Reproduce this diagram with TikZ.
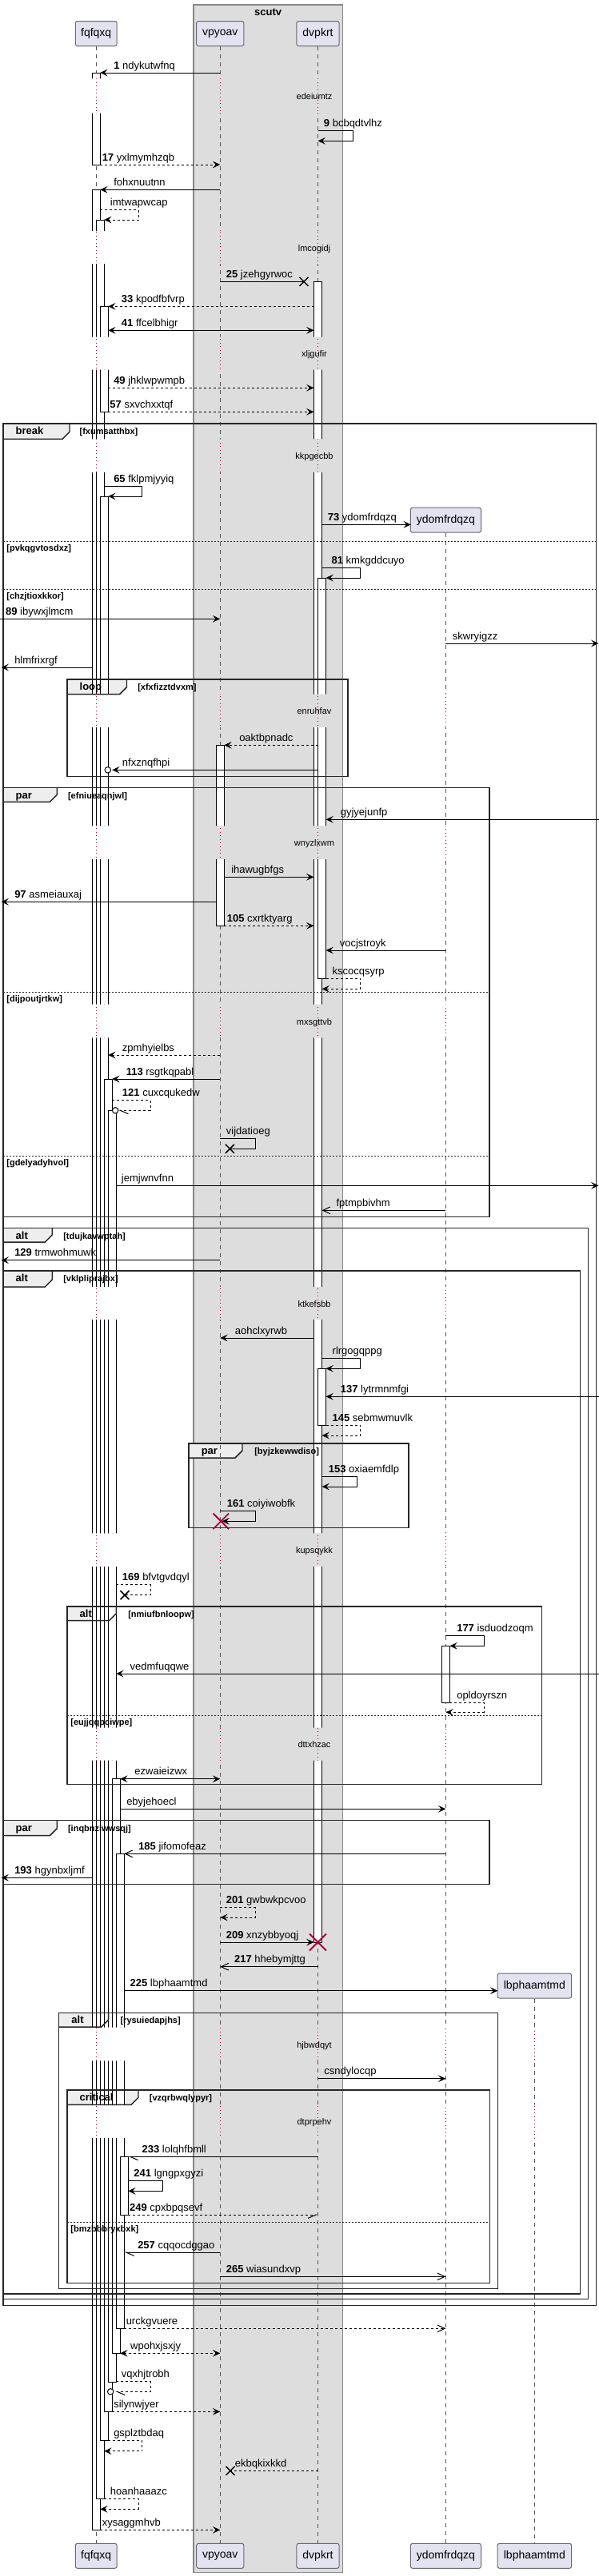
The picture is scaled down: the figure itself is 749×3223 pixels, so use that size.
\documentclass[tikz,border=0pt]{standalone}
\usepackage{fontspec}
\setmainfont{Liberation Sans}
\usetikzlibrary{arrows.meta}
\definecolor{grpfill}{HTML}{DDDDDD}
\definecolor{grpline}{HTML}{888888}
\definecolor{pfill}{HTML}{E2E2F0}
\definecolor{pline}{HTML}{6A6A6A}
\definecolor{tabfill}{HTML}{EEEEEE}
\definecolor{delayc}{HTML}{A80036}
\definecolor{lifec}{HTML}{555555}
\newcounter{mc}
\newcounter{fc}
\newcommand\Msg[6]{\stepcounter{mc}%
  \coordinate (ma\themc) at (#2,#1);%
  \coordinate (mb\themc) at (#3,#1);%
  \draw[msg,#4] (ma\themc) -- (mb\themc);%
  \node[lbl] (ml\themc) at (#5,#1-5) {#6};}
\newcommand\Self[8]{\stepcounter{mc}%
  \coordinate (ma\themc) at (#3,#1);%
  \coordinate (mb\themc) at (#5,#2);%
  \draw[msg,#6] (ma\themc) -- (#4,#1) -- (#4,#2) -- (mb\themc);%
  \node[lbl] (ml\themc) at (#7,#1-5) {#8};}
\newcommand\Xm[4]{\stepcounter{mc}%
  \coordinate (xa\themc) at (#1,#2);%
  \draw[#4] ([shift={(-#3,-#3)}]xa\themc) -- ([shift={(#3,#3)}]xa\themc)
            ([shift={(-#3,#3)}]xa\themc) -- ([shift={(#3,-#3)}]xa\themc);}
\newcommand\Circ[2]{\stepcounter{mc}%
  \node[circle,draw,fill=white,inner sep=0pt,minimum size=5.6pt,line width=0.75pt] (ci\themc) at (#1,#2) {};}
% tab background (drawn below lifelines and bars)
\newcommand\TabBG[4]{\fill[tabfill] (#1,#2) -- (#3,#2) -- (#3,#4-9) -- (#3-9,#4) -- (#1,#4) -- cycle;}
% frame outline and texts (drawn above bars)
\newcommand\Frame[9]{\stepcounter{fc}%
  \draw[frm] (#1,#2) rectangle (#3,#4);%
  \draw[frm] (#5,#2) -- (#5,#6-9) -- (#5-9,#6) -- (#1,#6);%
  \node[kw] (fk\thefc) at (#1+15.5,#2+13.5) {#7};%
  \node[grd] (fg\thefc) at (#8,#2+13.5) {#9};}
\newcommand\Sep[4]{\stepcounter{fc}%
  \draw[sep] (#1,#3) -- (#2,#3);%
  \node[grd] (fs\thefc) at (#1+4.2,#3+12) {#4};}
\newcommand\Bar[3]{\draw[barst] (#1,#2) rectangle (#1+10,#3);}
\begin{document}
\begin{tikzpicture}[x=0.75pt,y=-0.75pt,
  msg/.style={line width=0.75pt,black},
  dsh/.style={dash pattern=on 2.25pt off 2.25pt},
  fa/.style={-{Stealth[length=7pt,width=6.5pt,inset=2.8pt]}},
  fab/.style={{Stealth[length=7pt,width=6.5pt,inset=2.8pt]}-{Stealth[length=7pt,width=6.5pt,inset=2.8pt]}},
  oa/.style={-{Straight Barb[length=7pt,width=6.5pt]}},
  hl/.style={-{Straight Barb[left,length=7.5pt,width=6.5pt]}},
  hr/.style={-{Straight Barb[right,length=7.5pt,width=6.5pt]}},
  xk/.style={line width=1.1pt,black},
  rx/.style={line width=1.4pt,delayc},
  frm/.style={line width=1.1pt,draw=black!85},
  sep/.style={line width=0.75pt,draw=black!85,dash pattern=on 1.5pt off 1.5pt},
  kw/.style={anchor=base west,inner sep=0pt,font=\bfseries\fontsize{9.75}{11}\selectfont},
  grd/.style={anchor=base west,inner sep=0pt,font=\bfseries\fontsize{8.25}{10}\selectfont},
  lbl/.style={anchor=base west,inner sep=0pt,font=\fontsize{9.75}{11}\selectfont},
  dtxt/.style={anchor=base,inner sep=0pt,font=\fontsize{8.25}{10}\selectfont},
  pbox/.style={draw=pline,fill=pfill,rounded corners=1.9pt,line width=0.75pt,minimum height=23.25pt,inner sep=0pt,font=\fontsize{10.5}{12}\selectfont},
  life/.style={draw=lifec,line width=0.75pt,dash pattern=on 3.75pt off 3.75pt},
  dly/.style={draw=delayc,line width=0.75pt,dash pattern=on 0.75pt off 2.6pt},
  barst/.style={draw=black,fill=white,line width=0.75pt}]
\useasboundingbox (0,0) rectangle (749,3223);
\fill[white] (0,0) rectangle (749,3223);
% group box
\draw[fill=grpfill,draw=grpline,line width=0.9pt] (241.9,6) rectangle (428.5,3218.3);
\node[anchor=base,inner sep=0pt,font=\bfseries\fontsize{9.75}{11}\selectfont] (grp) at (335.2,19.5) {scutv};
% participants
\node[pbox,minimum width=38.9pt] (fqt) at (120.2,42) {fqfqxq};
\node[pbox,minimum width=44.4pt] (vpt) at (275.3,42) {vpyoav};
\node[pbox,minimum width=40pt] (dvt) at (397.5,42) {dvpkrt};
\node[pbox,minimum width=66.15pt] (ydt) at (557.4,650.7) {ydomfrdqzq};
\node[pbox,minimum width=69.45pt] (lbt) at (668.4,2484.5) {lbphaamtmd};
\node[pbox,minimum width=38.9pt] (fqb) at (120.2,3197.8) {fqfqxq};
\node[pbox,minimum width=44.4pt] (vpb) at (275.3,3197.8) {vpyoav};
\node[pbox,minimum width=40pt] (dvb) at (397.5,3197.8) {dvpkrt};
\node[pbox,minimum width=66.15pt] (ydb) at (557.4,3197.8) {ydomfrdqzq};
\node[pbox,minimum width=69.45pt] (lbb) at (668.4,3197.8) {lbphaamtmd};
% frame tab backgrounds
\TabBG{3.9}{530}{87}{549.3}
\TabBG{83.9}{850}{158.5}{868.7}
\TabBG{3.9}{985.7}{71.3}{1003.3}
\TabBG{3.9}{1536.7}{65.4}{1554}
\TabBG{3.9}{1590}{65.4}{1610}
\TabBG{236}{1806}{303}{1824}
\TabBG{83.9}{2010}{145.4}{2027.7}
\TabBG{3.9}{2277.7}{71.3}{2296.7}
\TabBG{73.7}{2518.3}{135.7}{2536}
\TabBG{83.9}{2615}{173}{2633.3}
% lifelines and bars outside delays
\begin{scope}
\clip (0,0) rectangle (749,98.3) (0,141.7) rectangle (749,289) (0,330) rectangle (749,421.7)
 (0,462.7) rectangle (749,549.3) (0,591) rectangle (749,868.7) (0,910) rectangle (749,1033.3)
 (0,1075) rectangle (749,1256.7) (0,1298.3) rectangle (749,1610) (0,1651) rectangle (749,1918.3)
 (0,1960) rectangle (749,2161.7) (0,2202.7) rectangle (749,2536.7) (0,2578.3) rectangle (749,2633.3)
 (0,2675) rectangle (749,3223);
\draw[life] (fqt.south) -- (fqb.north);
\draw[life] (vpt.south) -- (vpb.north);
\draw[life] (dvt.south) -- (dvb.north);
\draw[life] (ydt.south) -- (ydb.north);
\draw[life] (lbt.south) -- (lbb.north);
\Bar{115.2}{91}{206}
\Bar{115.2}{237.3}{3165.3}
\Bar{120.2}{275}{3126}
\Bar{125.2}{383.3}{515.3}
\Bar{125.2}{621}{3053.3}
\Bar{130.2}{1350}{3017.3}
\Bar{135.2}{1389.3}{2980}
\Bar{140.2}{2225.7}{2944.3}
\Bar{145.2}{2319.3}{2913.3}
\Bar{150.2}{2698.3}{2771}
\Bar{270.3}{932.3}{1158.3}
\Bar{392.5}{352.3}{2430}
\Bar{397.5}{723}{1224.3}
\Bar{397.5}{1712.3}{1783.3}
\Bar{552.4}{2059.3}{2130}
\end{scope}
% lifelines in delays
\begin{scope}
\clip (0,98.3) rectangle (749,141.7) (0,289) rectangle (749,330) (0,421.7) rectangle (749,462.7)
 (0,549.3) rectangle (749,591) (0,868.7) rectangle (749,910) (0,1033.3) rectangle (749,1075)
 (0,1256.7) rectangle (749,1298.3) (0,1610) rectangle (749,1651) (0,1918.3) rectangle (749,1960)
 (0,2161.7) rectangle (749,2202.7) (0,2536.7) rectangle (749,2578.3) (0,2633.3) rectangle (749,2675);
\draw[dly] (fqt.south) -- (fqb.north);
\draw[dly] (vpt.south) -- (vpb.north);
\draw[dly] (dvt.south) -- (dvb.north);
\draw[dly] (ydt.south) -- (ydb.north);
\draw[dly] (lbt.south) -- (lbb.north);
\end{scope}
% frames (outlines and texts above bars)
\Frame{3.9}{530}{745.5}{2884.3}{87}{549.3}{break}{99.4}{[fxumsatthbx]}
\Sep{3.9}{745.5}{677.7}{[pvkqgvtosdxz]}
\Sep{3.9}{745.5}{737}{[chzjtioxkkor]}
\Frame{83.9}{850}{434.8}{971.7}{158.5}{868.7}{loop}{172}{[xfxfizztdvxm]}
\Frame{3.9}{985.7}{612.2}{1522.3}{71.3}{1003.3}{par}{84.8}{[efniueaqnjwl]}
\Sep{3.9}{612.2}{1241.7}{[dijpoutjrtkw]}
\Sep{3.9}{612.2}{1446.7}{[gdelyadyhvol]}
\Frame{3.9}{1536.7}{735.3}{2876.7}{65.4}{1554}{alt}{79}{[tdujkavwptah]}
\Frame{3.9}{1590}{725.6}{2870}{65.4}{1610}{alt}{79}{[vklpliprajbx]}
\Frame{236}{1806}{511}{1911.7}{303}{1824}{par}{318}{[byjzkewwdiso]}
\Frame{83.9}{2010}{677.7}{2232.7}{145.4}{2027.7}{alt}{160}{[nmiufbnloopw]}
\Sep{83.9}{677.7}{2146}{[eujjqqpciwpe]}
\Frame{3.9}{2277.7}{612.2}{2357.3}{71.3}{2296.7}{par}{84.8}{[inqbnziwwsqj]}
\Frame{73.7}{2518.3}{622.4}{2863.3}{135.7}{2536}{alt}{150.3}{[rysuiedapjhs]}
\Frame{83.9}{2615}{612.7}{2856.7}{173}{2633.3}{critical}{186.6}{[vzqrbwqlypyr]}
\Sep{83.9}{612.7}{2780.3}{[bmzbbbryxbxk]}
% delay texts
\node[dtxt] (d1) at (393,124.5) {edeiumtz};
\node[dtxt] (d2) at (393,314) {lmcogidj};
\node[dtxt] (d3) at (393,446.7) {xljgufir};
\node[dtxt] (d4) at (393,574.7) {kkpgecbb};
\node[dtxt] (d5) at (393,893.9) {enruhfav};
\node[dtxt] (d6) at (393,1058.7) {wnyzlxwm};
\node[dtxt] (d7) at (393,1282) {mxsgttvb};
\node[dtxt] (d8) at (393,1635) {ktkefsbb};
\node[dtxt] (d9) at (393,1943.7) {kupsqykk};
\node[dtxt] (d10) at (393,2186.7) {dttxhzac};
\node[dtxt] (d11) at (393,2562) {hjbwdqyt};
\node[dtxt] (d12) at (393,2658.7) {dtprpehv};
% messages
\Msg{91}{275.3}{125.2}{fa}{142}{\textbf{1} ndykutwfnq}
\Self{163.3}{176.3}{397.5}{441}{397.5}{fa}{404.7}{\textbf{9} bcbqdtvlhz}
\Msg{206}{125.2}{275.3}{fa,dsh}{127.5}{\textbf{17} yxlmymhzqb}
\Msg{237.3}{275.3}{125.2}{fa}{142}{fohxnuutnn}
\Self{262.3}{275}{125.2}{173}{130.2}{fa,dsh}{137.7}{imtwapwcap}
\Msg{352.3}{275.3}{380}{}{282.6}{\textbf{25} jzehgyrwoc}
\Xm{380}{352.3}{5.5}{xk}
\Msg{383.3}{392.5}{135.2}{fa,dsh}{151.7}{\textbf{33} kpodfbfvrp}
\Msg{413.3}{135.2}{392.5}{fab}{151.7}{\textbf{41} ffcelbhigr}
\Msg{485.3}{135.2}{392.5}{fa,dsh}{142}{\textbf{49} jhklwpwmpb}
\Msg{515.3}{135.2}{392.5}{fa,dsh}{137.2}{\textbf{57} sxvchxxtqf}
\Self{608.3}{621}{130.2}{177.9}{135.2}{fa}{142}{\textbf{65} fklpmjyyiq}
\Msg{656.3}{402.5}{513.8}{fa}{409.6}{\textbf{73} ydomfrdqzq}
\Self{710.3}{723}{402.5}{450.8}{407.5}{fa}{414.4}{\textbf{81} kmkgddcuyo}
\Msg{774.3}{0}{275.3}{fa}{6.8}{\textbf{89} ibywxjlmcm}
\Msg{805}{557.4}{748.5}{fa}{565.7}{skwryigzz}
\Msg{835}{115.2}{1.5}{fa}{18}{hlmfrixrgf}
\Msg{932.3}{397.5}{280.3}{fa,dsh}{299}{oaktbpnadc}
\Msg{963.3}{397.5}{140.2}{fa}{152.7}{nfxznqfhpi}
\Circ{134.8}{963.3}
\Msg{1025.3}{749}{407.5}{fa}{425.6}{gyjyejunfp}
\Msg{1097.3}{280.3}{392.5}{fa}{289}{ihawugbfgs}
\Msg{1128.3}{270.3}{1.5}{fa}{18}{\textbf{97} asmeiauxaj}
\Msg{1158.3}{280.3}{392.5}{fa,dsh}{283.6}{\textbf{105} cxrtktyarg}
\Msg{1189}{557.4}{407.5}{fa}{424.6}{vocjstroyk}
\Self{1224.3}{1237.3}{407.5}{450.8}{402.5}{fa,dsh}{415.4}{kscocqsyrp}
\Msg{1320}{275.3}{135.2}{fa,dsh}{152.7}{zpmhyielbs}
\Msg{1350}{275.3}{140.2}{fa}{157.5}{\textbf{113} rsgtkqpabl}
\Self{1376.7}{1389.3}{140.2}{188}{148}{hl,dsh}{152.7}{\textbf{121} cuxcqukedw}
\Circ{144.2}{1389.3}
\Self{1424.3}{1437.3}{275.3}{319}{287.4}{}{282.6}{vijdatioeg}
\Xm{287.4}{1437.3}{5.5}{xk}
\Msg{1483.3}{145.2}{748.5}{fa}{151.7}{jemjwnvfnn}
\Msg{1514.3}{557.4}{402.5}{oa}{420.3}{fptmpbivhm}
\Msg{1576.7}{275.3}{1.5}{fa}{18}{\textbf{129} trmwohmuwk}
\Msg{1674}{392.5}{275.3}{fa}{293.7}{aohclxyrwb}
\Self{1699.3}{1712.3}{402.5}{450.8}{407.5}{fa}{415.4}{rlrgogqppg}
\Msg{1747.3}{749}{407.5}{fa}{425.6}{\textbf{137} lytrmnmfgi}
\Self{1783.3}{1796}{407.5}{450.8}{402.5}{fa,dsh}{415.4}{\textbf{145} sebmwmuvlk}
\Self{1847.7}{1860}{402.5}{446}{402.5}{fa}{410.6}{\textbf{153} oxiaemfdlp}
\Self{1890}{1903.3}{275.3}{319}{277.5}{fa}{283.6}{\textbf{161} coiyiwobfk}
\Xm{276.3}{1903.3}{9.8}{rx}
\Self{1982.3}{1995.7}{145.2}{188}{156}{dsh}{152.7}{\textbf{169} bfvtgvdqyl}
\Xm{156}{1995.7}{5.5}{xk}
\Self{2046}{2059.3}{557.4}{605}{562.4}{fa}{571}{\textbf{177} isduodzoqm}
\Msg{2094}{749}{145.2}{fa}{162.4}{vedmfuqqwe}
\Self{2130}{2142.3}{562.4}{605}{557.4}{fa,dsh}{571}{opldoyrszn}
\Msg{2225.7}{150.2}{275.3}{fab}{168.2}{ezwaieizwx}
\Msg{2263.3}{150.2}{557.4}{fa}{158}{ebyjehoecl}
\Msg{2319.3}{557.4}{155.2}{oa}{173}{\textbf{185} jifomofeaz}
\Msg{2349.3}{115.2}{1.5}{fa}{18}{\textbf{193} hgynbxljmf}
\Self{2386.7}{2399}{275.3}{319}{275.3}{fa,dsh}{282.6}{\textbf{201} gwbwkpcvoo}
\Msg{2430}{275.3}{392.5}{fa}{282.6}{\textbf{209} xnzybbyoqj}
\Xm{397.5}{2430}{10.5}{rx}
\Msg{2460.7}{397.5}{275.3}{oa}{292.8}{\textbf{217} hhebymjttg}
\Msg{2490.7}{155.2}{622.4}{fa}{162.4}{\textbf{225} lbphaamtmd}
\Msg{2600.7}{397.5}{557.4}{fa}{405.2}{csndylocqp}
\Msg{2698.3}{397.5}{160.2}{hl}{177.4}{\textbf{233} lolqhfbmll}
\Self{2728.3}{2741.3}{160.2}{203.6}{160.2}{fa}{167.2}{\textbf{241} lgngpxgyzi}
\Msg{2771}{160.2}{397.5}{hr,dsh}{161.9}{\textbf{249} cpxbpqsevf}
\Msg{2818}{275.3}{155.2}{hl}{172}{\textbf{257} cqqocdggao}
\Msg{2848.3}{275.3}{557.4}{oa}{282.6}{\textbf{265} wiasundxvp}
\Msg{2913.3}{155.2}{557.4}{oa,dsh}{157.5}{urckgvuere}
\Msg{2944.3}{150.2}{275.3}{fab,dsh}{162.9}{wpohxjsxjy}
\Self{2979.3}{2992.3}{145.2}{188}{144}{hl,dsh}{151.7}{vqxhjtrobh}
\Circ{138.2}{2992.3}
\Msg{3017.3}{140.2}{275.3}{fa,dsh}{142}{silynwjyer}
\Self{3053.3}{3066.7}{135.2}{177.9}{130.2}{fa,dsh}{142}{gsplztbdaq}
\Msg{3091.3}{397.5}{288}{dsh}{293.7}{ekbqkixkkd}
\Xm{288}{3091.3}{5.5}{xk}
\Self{3126}{3139.3}{130.2}{173}{125.2}{fa,dsh}{137.7}{hoanhaaazc}
\Msg{3165.3}{125.2}{275.3}{fa,dsh}{127.5}{xysaggmhvb}
\end{tikzpicture}
\end{document}
